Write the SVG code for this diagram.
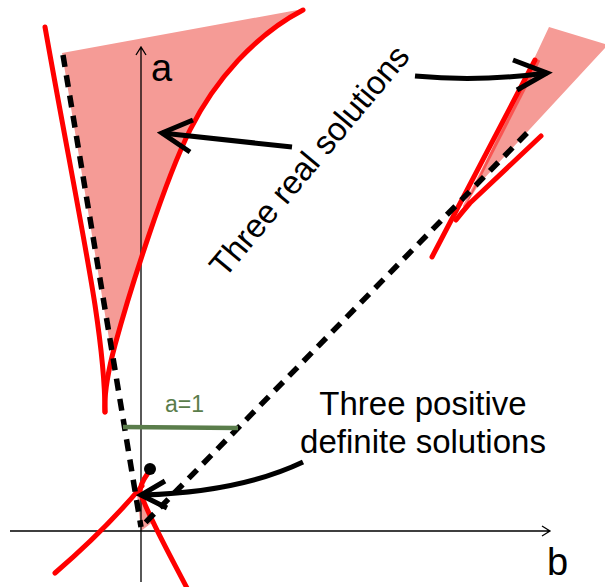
<svg xmlns="http://www.w3.org/2000/svg" width="605" height="587" viewBox="0 0 605 587">
  <style>
    .fill { fill: #f59b96; stroke: none; }
    .axis { fill: none; stroke: #000; stroke-width: 1.3; }
    .red { fill: none; stroke: #ff0000; stroke-width: 5; stroke-linecap: round; stroke-linejoin: round; }
    .dash { fill: none; stroke: #000; stroke-width: 5.5; stroke-dasharray: 12 8.5; }
    .arrow { fill: none; stroke: #000; stroke-width: 5; stroke-linecap: butt; stroke-linejoin: miter; }
    .label { font-family: "Liberation Sans", Arial, sans-serif; fill: #000; }
    .green { fill: none; stroke: #5a7d4b; stroke-width: 4.5; }
  </style>
  <rect width="605" height="587" fill="#ffffff"/>

  <g id="regions">
    <path class="fill" d="M62,53 L303,9 C255,35 215,80 190,130 C165,180 130,290 115,345 L112,357 Z"/>
    <path class="fill" d="M549,27 L605,44 L605,48 L480,183 L465,206 Z"/>
    <path class="fill" d="M137,494 L150,511 L154,521 L141,531 Z"/>
  </g>

  <g id="axes">
    <path class="axis" d="M10,531 L550,531 M542,526 L550,531 L542,536"/>
    <path class="axis" d="M141,582 L141,47 M136,55 L141,47 L146,55"/>
  </g>

  <g id="curves">
    <path class="red" d="M45,27 C65,140 85,240 95,305 C101,345 105,385 105,412"/>
    <path class="red" d="M303,10 C255,35 215,80 190,130 C165,180 130,290 115,345 C107,375 104,395 105,412"/>
    <path class="red" d="M535,60 L432,257"/>
    <path class="red" d="M541,136 L470,203 Q463,211 456,220"/>
    <path d="M464,207 L539,60" fill="none" stroke="#ff0000" stroke-width="3" stroke-opacity="0.45"/>
    <path class="red" d="M148,473 C143,480 140,486 140,492 C150,520 170,555 188,590"/>
    <path class="red" d="M55,573 Q105,530 142,486"/>
  </g>

  <g id="asymptotes">
    <path class="dash" d="M63,55 L141,527"/>
    <path class="dash" d="M527,133 L143,525"/>
  </g>

  <g id="a-equals-1">
    <path class="green" d="M123,427 L238,428"/>
    <text x="165" y="412" font-family="Liberation Sans, Arial, sans-serif" font-size="23" fill="#5a7d4b">a=1</text>
  </g>

  <g id="point">
    <circle cx="150" cy="469" r="6" fill="#000"/>
  </g>

  <g id="connectors">
    <path class="arrow" d="M292,147 L162,133"/>
    <path class="arrow" d="M193,120 L162,133 L190,152"/>
    <path class="arrow" d="M415,76 Q480,82 547,73"/>
    <path class="arrow" d="M513,60 L547,73 L517,90"/>
    <path class="arrow" d="M303,462 Q240,492 143,495"/>
    <path class="arrow" d="M165,481 L141,495 L167,508"/>
  </g>

  <g id="labels">
    <text class="label" x="151" y="81" font-size="38">a</text>
    <text class="label" x="547" y="575" font-size="38">b</text>
    <text class="label" x="318" y="168" font-size="33" text-anchor="middle" transform="rotate(-50 318 168)">Three real solutions</text>
    <text class="label" x="423" y="415" font-size="33" text-anchor="middle">Three positive</text>
    <text class="label" x="423" y="453" font-size="33" text-anchor="middle">definite solutions</text>
  </g>
</svg>
